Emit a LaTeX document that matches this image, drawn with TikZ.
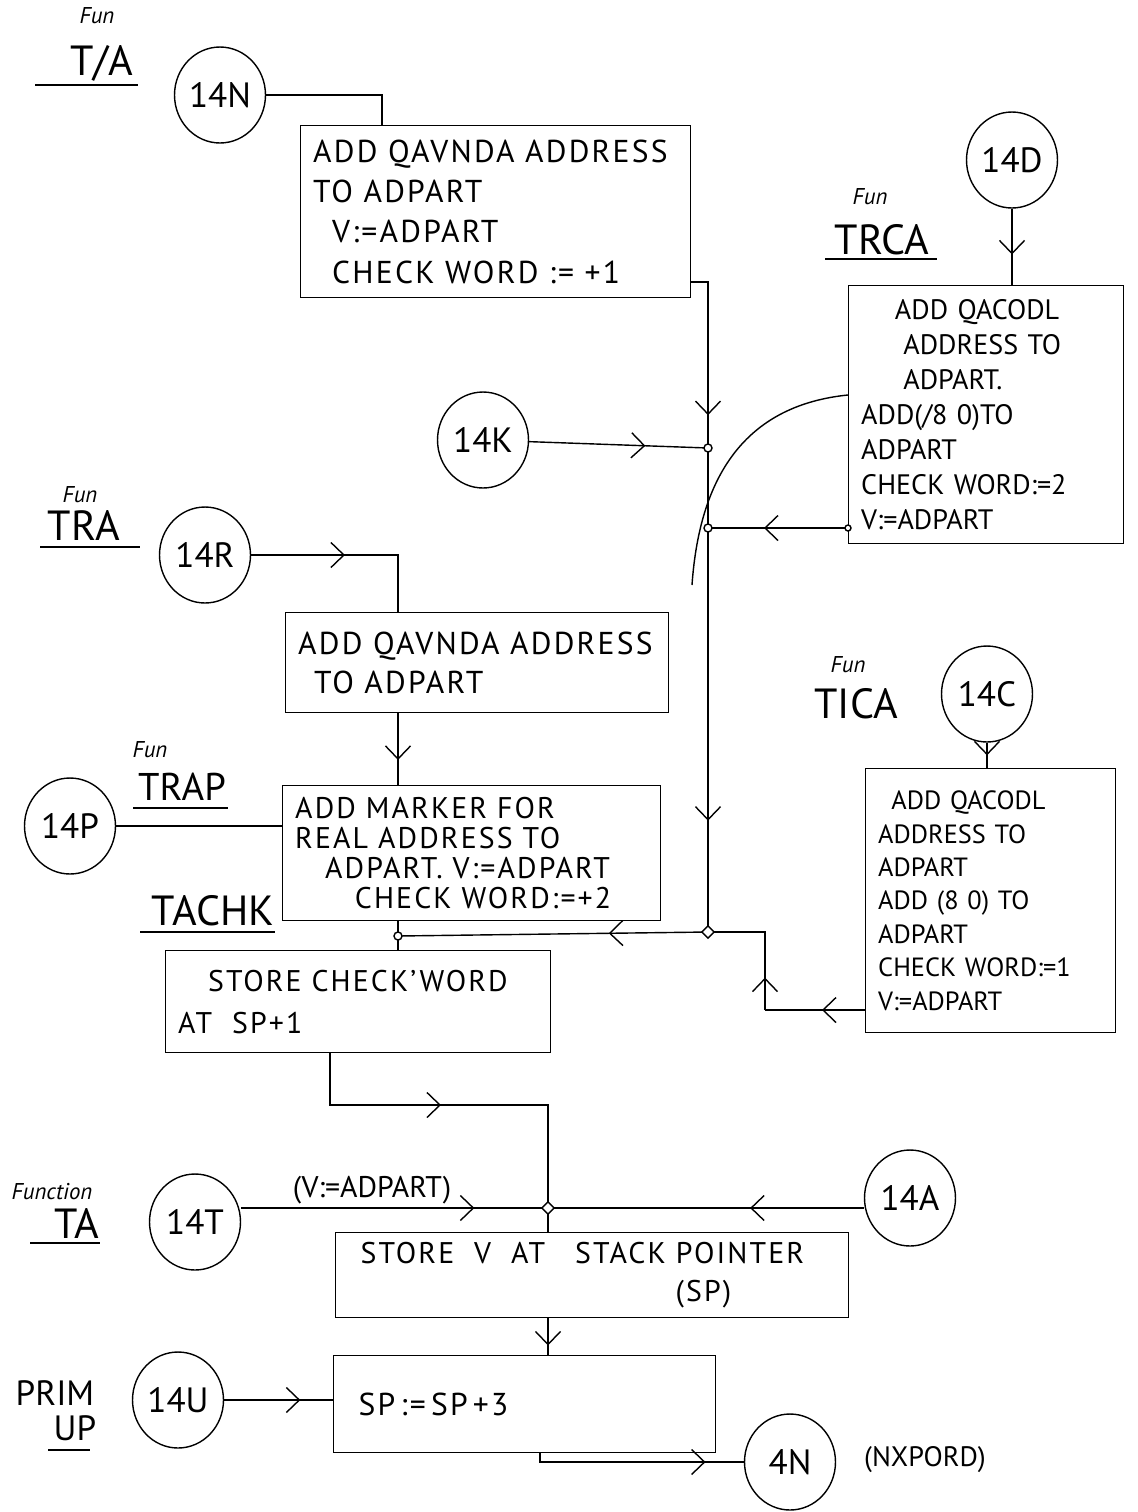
\documentclass[tikz,border=0pt]{standalone}
\usepackage{fontspec}
\setmainfont{PT Sans}
\newfontfamily\hand[LetterSpace=7]{PT Sans}
\usetikzlibrary{arrows.meta,positioning,calc,decorations.markings,shapes.geometric}
\begin{document}
\begin{tikzpicture}[x=0.02cm,y=-0.02cm,line width=0.8pt,
box/.style={draw,rectangle,anchor=north west,inner xsep=2.5mm,inner ysep=1mm,align=left},
conn/.style={draw,ellipse,minimum width=1.82cm,minimum height=1.92cm,inner sep=0pt,font=\fontsize{20}{24}\selectfont},
fun/.style={font=\fontsize{13}{15}\selectfont\itshape},
ttl/.style={font=\fontsize{24}{28}\selectfont,inner sep=0pt,anchor=base},
jdot/.style={draw,circle,fill=white,inner sep=0pt,minimum size=1.6mm},
jdia/.style={draw,diamond,fill=white,inner sep=0pt,minimum size=2.6mm},
arr/.style={postaction={decorate,decoration={markings,mark=at position #1 with {\arrow{Straight Barb[length=2.6mm,width=5mm]}}}}}]
\useasboundingbox (0,0) rectangle (1137,1512);
\node[fun] (fTIA) at (97,16) {Fun};
\node[ttl] (tTIA) at (102,75) {T/A};
\draw (tTIA.base) ++(-67,10) -- ++(103,0);
\node[fun] (fTRCA) at (870,197) {Fun};
\node[ttl] (tTRCA) at (882,254) {TRCA};
\draw (tTRCA.base) ++(-57,5) -- ++(112,0);
\node[fun] (fTRA) at (80,495) {Fun};
\node[ttl] (tTRA) at (84,540) {TRA};
\draw (tTRA.base) ++(-44,7) -- ++(100,0);
\node[fun] (fTRAP) at (150,750) {Fun};
\node[ttl,font=\fontsize{22}{26}\selectfont] (tTRAP) at (182,800) {TRAP};
\draw (tTRAP.base) ++(-49,8) -- ++(95,0);
\node[ttl] (tTACHK) at (213,925) {TACHK};
\draw (tTACHK.base) ++(-73,7) -- ++(135,0);
\node[fun] (fTICA) at (848,665) {Fun};
\node[ttl] (tTICA) at (856,718) {TICA};
\node[fun] (fTA) at (52,1192) {Function};
\node[ttl] (tTA) at (77,1238) {TA};
\draw (tTA.base) ++(-47,5) -- ++(70,0);
\node[ttl,font=\fontsize{20}{24}\selectfont] (tPRIM) at (55,1405) {PRIM};
\node[ttl,font=\fontsize{20}{24}\selectfont] (tUP) at (75,1440) {UP};
\draw (tUP.base) ++(-27,10) -- ++(42,0);
\node[conn] (n14N) at (220,95) {14N};
\node[conn] (n14D) at (1012,160) {14D};
\node[conn] (n14K) at (483,440) {14K};
\node[conn] (n14R) at (205,555) {14R};
\node[conn] (n14C) at (987,694) {14C};
\node[conn] (n14P) at (70,826) {14P};
\node[conn] (n14T) at (195,1222) {14T};
\node[conn] (n14A) at (910,1198) {14A};
\node[conn] (n14U) at (178,1400) {14U};
\node[conn] (n4N) at (790,1462) {4N};
\node[box,minimum width=7.8cm,minimum height=3.44cm,text width=7.3cm,font=\hand\fontsize{18}{23}\selectfont] (addq) at (300,125) {ADD QAVNDA ADDRESS\\TO ADPART\\\hspace{0.6em}V:=ADPART\\\hspace{0.6em}CHECK WORD := +1};
\node[box,minimum width=5.5cm,minimum height=5.16cm,text width=5cm,font=\fontsize{16}{20}\selectfont] (trca) at (848,285) {\hspace{1.2em}ADD QACODL\\\hspace{1.5em}ADDRESS TO\\\hspace{1.5em}ADPART.\\ADD(/8 0)TO\\ADPART\\CHECK WORD:=2\\V:=ADPART};
\node[box,minimum width=7.66cm,minimum height=2cm,text width=7.16cm,font=\hand\fontsize{18}{22}\selectfont] (addr) at (285,612) {ADD QAVNDA ADDRESS\\\hspace{0.5em}TO ADPART};
\node[box,minimum width=7.56cm,minimum height=2.7cm,text width=7.06cm,font=\hand\fontsize{17}{17}\selectfont] (mark) at (282,785) {ADD MARKER FOR\\REAL ADDRESS TO\\\hspace{1em}ADPART. V:=ADPART\\\hspace{2em}CHECK WORD:=+2};
\node[box,minimum width=5cm,minimum height=5.28cm,text width=4.5cm,font=\fontsize{15}{19}\selectfont] (tica) at (865,768) {\hspace{0.5em}ADD QACODL\\ADDRESS TO\\ADPART\\ADD (8 0) TO\\ADPART\\CHECK WORD:=1\\V:=ADPART};
\node[box,minimum width=7.7cm,minimum height=2.04cm,text width=7.2cm,font=\hand\fontsize{17}{24}\selectfont] (chk) at (165,950) {\hspace{1em}STORE CHECK’WORD\\AT\ \ SP+1};
\node[box,minimum width=10.26cm,minimum height=1.7cm,text width=9.26cm,inner xsep=5mm,font=\hand\fontsize{17}{22}\selectfont] (stv) at (335,1232) {STORE\ \ V\ \ AT\quad STACK POINTER\\\hspace*{6.3cm}(SP)};
\node[box,minimum width=7.64cm,minimum height=1.94cm,text width=6.64cm,inner xsep=5mm,font=\hand\fontsize{18}{22}\selectfont] (spinc) at (333,1355) {SP\,:=\,SP\,+3\\[5mm]};
\node[font=\fontsize{17}{20}\selectfont] (lvad) at (372,1190) {(V:=ADPART)};
\node[font=\fontsize{16}{20}\selectfont] (lnx) at (925,1460) {(NXPORD)};
\coordinate (m0) at (708,282);
\coordinate (jK) at (708,448);
\coordinate (jD) at (708,528);
\coordinate (jM) at (708,932);
\coordinate (jC) at (398,936);
\coordinate (cT) at (765,932);
\coordinate (cB) at (765,1010);
\coordinate (jT) at (548,1208);
\coordinate (cS) at (548,1105);
\coordinate (cvB) at (692,585);
\draw (n14N.east) -| ([xshift=1.64cm]addq.north west);
\draw[arr=0.82] (addq.east |- m0) -- (m0) -- (jK);
\draw[arr=0.77] (jK) -- (jM);
\draw[arr=0.65] (n14K) -- (jK);
\draw[arr=0.6] (trca.west |- jD) -- (jD);
\draw[arr=0.6] (n14D) -- (n14D |- trca.north);
\draw ([yshift=-2.2cm]trca.north west) .. controls (750,405) and (700,470) .. (cvB);
\draw[arr=0.46] (n14R.east) -| ([xshift=2.26cm]addr.north west);
\draw[arr=0.65] (addr.south -| jC) -- (mark.north -| jC);
\draw (n14P) -- (mark.west |- n14P);
\draw (mark.south -| jC) -- (chk.north -| jC);
\draw[arr=0.32] (jM) -- (jC);
\draw[arr=0.43] (tica.west |- cB) -- (cB);
\draw[arr=0.24] (cB) -- (cT) -- (jM);
\draw[arr=0.5] (n14C) -- (n14C |- tica.north);
\draw[arr=0.41] ([xshift=3.3cm]chk.south west) |- (cS) -- (stv.north -| cS);
\draw[arr=0.76] (n14T.east |- jT) -- (jT);
\draw[arr=0.36] (n14A.west |- jT) -- (jT);
\draw[arr=0.74] (stv.south -| jT) -- (spinc.north -| jT);
\draw[arr=0.7] (n14U) -- (spinc.west |- n14U);
\draw[arr=0.82] ([xshift=4.14cm]spinc.south west) |- (n4N.west);
\node[jdot] (dK) at (jK) {};
\node[jdot] (dD) at (jD) {};
\node[jdot,minimum size=1.2mm] (dDs) at (trca.west |- jD) {};
\node[jdia] (dM) at (jM) {};
\node[jdot] (dC) at (jC) {};
\node[jdia] (dT) at (jT) {};
\end{tikzpicture}
\end{document}
